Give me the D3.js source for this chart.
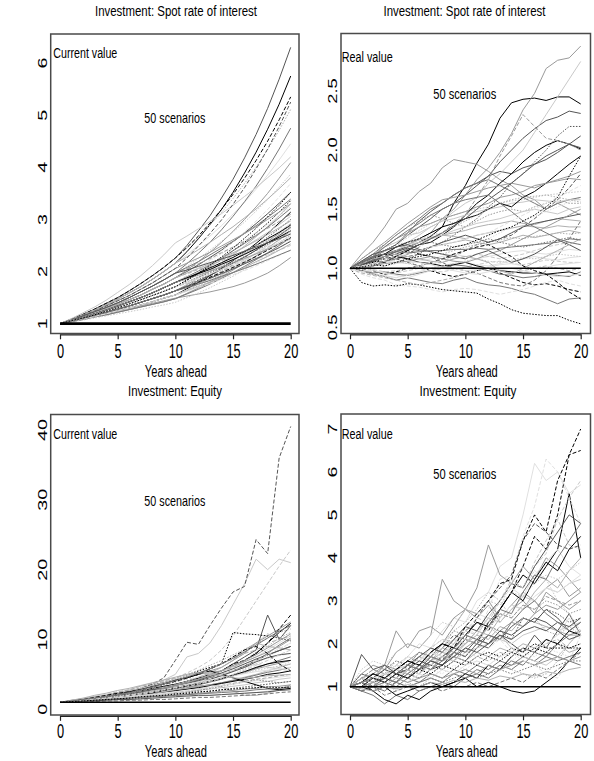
<!DOCTYPE html>
<meta charset="utf-8">
<html>
<head>
<style>
  html, body { margin: 0; padding: 0; background: #fff; overflow: hidden; }
  svg { display: block; }
  text { font-family: "Liberation Sans Narrow", "Liberation Sans", Arial, sans-serif; fill: #000; }
  text.ynum { font-family: "Liberation Sans", Arial, sans-serif; }
  path.scen { fill: none; stroke-width: 1; }
</style>
<script src="https://cdnjs.cloudflare.com/ajax/libs/d3/7.8.5/d3.min.js"></script>
</head>
<body>
<div id="chart"></div>
<script>
// years ahead and ticks
var years = [0,1,2,3,4,5,6,7,8,9,10,11,12,13,14,15,16,17,18,19,20];
var xTicks = [0,5,10,15,20];
var spotCurrentTicks = [1,2,3,4,5,6];
var spotRealTicks = [0.5,1.0,1.5,2.0,2.5];
var equityCurrentTicks = [0,10,20,30,40];
var equityRealTicks = [1,2,3,4,5,6,7];
var baseValue = 1;

// 50 scenarios, spot rate of interest, current value
var spotCurrent = [
[1,1.08,1.17,1.26,1.36,1.47,1.59,1.71,1.85,2.00,2.16,2.38,2.63,2.90,3.19,3.52,3.89,4.29,4.73,5.21,5.75],
[1,1.05,1.10,1.15,1.20,1.25,1.29,1.34,1.39,1.44,1.49,1.53,1.57,1.61,1.66,1.71,1.78,1.87,1.97,2.11,2.27],
[1,1.06,1.11,1.17,1.24,1.31,1.38,1.46,1.54,1.62,1.71,1.77,1.84,1.92,1.99,2.07,2.15,2.23,2.32,2.41,2.50],
[1,1.09,1.18,1.28,1.39,1.50,1.63,1.77,1.92,2.08,2.26,2.50,2.78,3.07,3.41,3.77,4.18,4.63,5.13,5.69,6.30],
[1,1.09,1.18,1.28,1.39,1.50,1.63,1.77,1.92,2.08,2.26,2.45,2.66,2.89,3.13,3.40,3.69,4.00,4.34,4.71,5.11],
[1,1.08,1.17,1.26,1.36,1.47,1.59,1.71,1.85,2.00,2.16,2.32,2.50,2.68,2.88,3.10,3.33,3.58,3.85,4.14,4.45],
[1,1.07,1.15,1.23,1.31,1.40,1.50,1.61,1.72,1.84,1.97,2.15,2.35,2.56,2.80,3.06,3.34,3.64,3.98,4.35,4.75],
[1,1.09,1.18,1.28,1.39,1.50,1.63,1.77,1.92,2.08,2.26,2.46,2.68,2.93,3.19,3.48,3.79,4.13,4.50,4.91,5.35],
[1,1.07,1.13,1.21,1.29,1.37,1.46,1.55,1.66,1.76,1.88,2.03,2.19,2.37,2.56,2.77,3.00,3.24,3.50,3.79,4.09],
[1,1.07,1.15,1.23,1.31,1.40,1.50,1.61,1.72,1.84,1.97,2.10,2.25,2.41,2.58,2.76,2.95,3.16,3.38,3.62,3.87],
[1,1.07,1.13,1.21,1.29,1.37,1.46,1.55,1.66,1.76,1.88,2.00,2.13,2.27,2.41,2.57,2.74,2.92,3.11,3.31,3.52],
[1,1.08,1.17,1.26,1.36,1.47,1.59,1.71,1.85,2.00,2.16,2.28,2.42,2.56,2.71,2.86,3.03,3.20,3.39,3.59,3.80],
[1,1.06,1.12,1.19,1.26,1.34,1.42,1.50,1.59,1.69,1.79,1.93,2.07,2.22,2.39,2.57,2.76,2.97,3.19,3.43,3.69],
[1,1.07,1.15,1.23,1.31,1.40,1.50,1.61,1.72,1.84,1.97,2.08,2.19,2.32,2.45,2.58,2.73,2.88,3.04,3.21,3.39],
[1,1.06,1.11,1.17,1.24,1.31,1.38,1.46,1.54,1.62,1.71,1.83,1.96,2.09,2.24,2.40,2.56,2.74,2.93,3.14,3.36],
[1,1.08,1.16,1.24,1.34,1.44,1.54,1.66,1.78,1.92,2.06,2.16,2.26,2.37,2.49,2.61,2.73,2.86,3.00,3.14,3.30],
[1,1.10,1.21,1.32,1.45,1.60,1.75,1.92,2.11,2.32,2.55,2.68,2.82,2.96,3.11,3.27,3.44,3.61,3.80,3.99,4.20],
[1,1.08,1.16,1.24,1.34,1.44,1.54,1.66,1.78,1.92,2.06,2.26,2.49,2.73,2.99,3.29,3.61,3.97,4.35,4.78,5.25],
[1,1.05,1.10,1.16,1.22,1.28,1.34,1.41,1.48,1.55,1.63,1.75,1.88,2.01,2.16,2.32,2.49,2.67,2.86,3.07,3.30],
[1,1.07,1.13,1.21,1.29,1.37,1.46,1.55,1.66,1.76,1.88,1.98,2.09,2.21,2.34,2.46,2.60,2.75,2.90,3.07,3.24],
[1,1.06,1.12,1.19,1.26,1.34,1.42,1.50,1.59,1.69,1.79,1.90,2.01,2.13,2.26,2.40,2.54,2.69,2.85,3.03,3.21],
[1,1.05,1.09,1.14,1.19,1.25,1.30,1.36,1.42,1.49,1.55,1.67,1.79,1.92,2.06,2.21,2.37,2.54,2.73,2.93,3.14],
[1,1.07,1.15,1.23,1.31,1.40,1.50,1.61,1.72,1.84,1.97,2.06,2.15,2.25,2.36,2.47,2.58,2.70,2.83,2.96,3.10],
[1,1.06,1.12,1.19,1.26,1.34,1.42,1.50,1.59,1.69,1.79,1.89,1.99,2.10,2.22,2.34,2.47,2.61,2.75,2.90,3.06],
[1,1.05,1.10,1.16,1.22,1.28,1.34,1.41,1.48,1.55,1.63,1.73,1.84,1.96,2.08,2.21,2.35,2.50,2.66,2.82,3.00],
[1,1.07,1.13,1.21,1.29,1.37,1.46,1.55,1.66,1.76,1.88,1.97,2.06,2.15,2.26,2.36,2.47,2.59,2.71,2.84,2.97],
[1,1.06,1.11,1.17,1.24,1.31,1.38,1.46,1.54,1.62,1.71,1.80,1.90,2.01,2.12,2.23,2.36,2.49,2.62,2.77,2.92],
[1,1.05,1.09,1.14,1.19,1.25,1.30,1.36,1.42,1.49,1.55,1.65,1.76,1.88,2.00,2.13,2.27,2.41,2.57,2.74,2.91],
[1,1.06,1.12,1.19,1.26,1.34,1.42,1.50,1.59,1.69,1.79,1.88,1.97,2.07,2.17,2.27,2.39,2.50,2.63,2.75,2.89],
[1,1.06,1.11,1.17,1.24,1.31,1.38,1.46,1.54,1.62,1.71,1.80,1.90,2.00,2.10,2.22,2.34,2.46,2.59,2.73,2.88],
[1,1.04,1.08,1.13,1.17,1.22,1.27,1.32,1.37,1.42,1.48,1.58,1.69,1.80,1.93,2.06,2.20,2.35,2.50,2.68,2.86],
[1,1.05,1.10,1.16,1.22,1.28,1.34,1.41,1.48,1.55,1.63,1.72,1.82,1.93,2.04,2.16,2.28,2.41,2.55,2.69,2.85],
[1,1.07,1.13,1.21,1.29,1.37,1.46,1.55,1.66,1.76,1.88,1.96,2.04,2.12,2.21,2.30,2.40,2.50,2.61,2.72,2.83],
[1,1.05,1.09,1.14,1.19,1.25,1.30,1.36,1.42,1.49,1.55,1.65,1.75,1.86,1.97,2.09,2.22,2.36,2.50,2.66,2.82],
[1,1.06,1.11,1.17,1.24,1.31,1.38,1.46,1.54,1.62,1.71,1.79,1.88,1.98,2.08,2.18,2.29,2.40,2.52,2.65,2.78],
[1,1.06,1.12,1.19,1.26,1.34,1.42,1.50,1.59,1.69,1.79,1.87,1.96,2.04,2.14,2.23,2.33,2.44,2.55,2.66,2.78],
[1,1.04,1.08,1.13,1.17,1.22,1.27,1.32,1.37,1.42,1.48,1.58,1.68,1.79,1.90,2.03,2.16,2.30,2.45,2.61,2.78],
[1,1.05,1.10,1.16,1.22,1.28,1.34,1.41,1.48,1.55,1.63,1.72,1.81,1.90,2.01,2.11,2.23,2.35,2.47,2.60,2.74],
[1,1.07,1.15,1.23,1.31,1.40,1.50,1.61,1.72,1.84,1.97,2.03,2.10,2.17,2.24,2.31,2.39,2.47,2.55,2.63,2.72],
[1,1.05,1.09,1.14,1.19,1.25,1.30,1.36,1.42,1.49,1.55,1.64,1.73,1.83,1.94,2.05,2.16,2.29,2.42,2.56,2.70],
[1,1.06,1.11,1.17,1.24,1.31,1.38,1.46,1.54,1.62,1.71,1.79,1.87,1.96,2.04,2.14,2.24,2.34,2.45,2.56,2.68],
[1,1.04,1.08,1.13,1.17,1.22,1.27,1.32,1.37,1.42,1.48,1.57,1.66,1.76,1.87,1.98,2.10,2.23,2.36,2.50,2.65],
[1,1.05,1.10,1.16,1.22,1.28,1.34,1.41,1.48,1.55,1.63,1.71,1.80,1.89,1.98,2.08,2.18,2.29,2.41,2.53,2.65],
[1,1.06,1.12,1.19,1.26,1.34,1.42,1.50,1.59,1.69,1.79,1.86,1.93,2.01,2.09,2.17,2.25,2.34,2.43,2.53,2.63],
[1,1.04,1.07,1.11,1.15,1.19,1.23,1.27,1.32,1.36,1.41,1.50,1.59,1.69,1.80,1.91,2.04,2.16,2.30,2.45,2.60],
[1,1.05,1.10,1.16,1.22,1.28,1.34,1.41,1.48,1.55,1.63,1.71,1.79,1.87,1.96,2.05,2.15,2.25,2.35,2.46,2.58],
[1,1.05,1.09,1.14,1.19,1.25,1.30,1.36,1.42,1.49,1.55,1.63,1.71,1.80,1.89,1.98,2.08,2.19,2.29,2.41,2.53],
[1,1.05,1.09,1.14,1.19,1.25,1.30,1.36,1.42,1.49,1.55,1.62,1.70,1.77,1.85,1.94,2.02,2.11,2.21,2.31,2.41],
[1,1.05,1.10,1.16,1.22,1.28,1.34,1.41,1.48,1.55,1.63,1.69,1.76,1.83,1.91,1.98,2.06,2.14,2.23,2.32,2.41],
[1,1.06,1.11,1.17,1.24,1.31,1.38,1.46,1.54,1.62,1.71,1.84,1.97,2.12,2.28,2.45,2.64,2.83,3.05,3.27,3.52]
];

// spot rate of interest, real value
var spotReal = [
[1,1.05,1.08,1.12,1.15,1.18,1.22,1.27,1.35,1.55,1.70,1.89,2.05,2.27,2.40,2.43,2.44,2.42,2.45,2.45,2.39],
[1,1.06,1.12,1.08,1.15,1.20,1.25,1.30,1.42,1.50,1.62,1.75,1.85,1.98,2.14,2.34,2.48,2.69,2.76,2.78,2.88],
[1,0.99,0.97,0.95,0.96,0.98,1.00,0.98,0.97,0.99,1.01,1.03,1.05,1.06,1.04,1.03,1.05,1.07,1.06,1.05,1.05],
[1,1.04,1.10,1.15,1.20,1.28,1.35,1.42,1.50,1.55,1.62,1.70,1.78,1.90,2.00,2.10,2.18,2.25,2.28,2.33,2.31],
[1,1.03,1.06,1.05,1.08,1.12,1.15,1.14,1.12,1.15,1.18,1.20,1.22,1.24,1.26,1.25,1.27,1.28,1.30,1.29,1.30],
[1,0.97,0.95,0.94,0.92,0.95,0.97,1.00,1.02,1.04,1.05,1.03,1.02,1.04,1.06,1.08,1.10,1.08,1.07,1.09,1.10],
[1,0.98,0.95,0.93,0.90,0.92,0.90,0.88,0.87,0.90,0.92,0.88,0.86,0.85,0.83,0.80,0.78,0.74,0.70,0.74,0.75],
[1,1.02,0.98,0.95,0.97,1.00,1.02,0.98,0.95,0.93,0.95,0.98,1.00,0.96,0.92,0.88,0.86,0.87,0.85,0.82,0.80],
[1,1.12,1.22,1.35,1.50,1.55,1.65,1.72,1.85,1.92,1.90,1.88,1.82,1.75,1.70,1.62,1.58,1.50,1.55,1.50,1.45],
[1,1.04,1.08,1.14,1.20,1.26,1.32,1.38,1.42,1.45,1.48,1.50,1.52,1.55,1.57,1.58,1.60,1.62,1.63,1.64,1.65],
[1,1.04,1.09,1.15,1.20,1.30,1.40,1.48,1.55,1.62,1.68,1.72,1.78,1.82,1.80,1.85,1.88,1.92,1.98,2.05,2.12],
[1,1.02,1.06,1.10,1.14,1.18,1.22,1.25,1.28,1.30,1.32,1.35,1.37,1.38,1.40,1.38,1.37,1.40,1.42,1.41,1.40],
[1,0.95,0.92,0.90,0.86,0.85,0.84,0.82,0.80,0.82,0.83,0.82,0.80,0.78,0.80,0.82,0.85,0.88,0.90,0.87,0.85],
[1,0.98,0.96,0.97,0.95,0.94,0.96,0.98,1.00,1.03,1.02,1.00,0.98,0.95,0.94,0.92,0.93,0.95,0.94,0.93,0.97],
[1,0.88,0.85,0.86,0.85,0.87,0.86,0.84,0.82,0.81,0.80,0.79,0.74,0.70,0.65,0.62,0.61,0.60,0.60,0.56,0.53],
[1,1.06,1.12,1.18,1.25,1.30,1.35,1.38,1.42,1.45,1.48,1.52,1.55,1.60,1.62,1.65,1.70,1.72,1.75,1.78,1.82],
[1,1.03,1.08,1.10,1.18,1.22,1.28,1.35,1.40,1.48,1.55,1.60,1.72,1.80,1.90,2.00,2.15,2.30,2.45,2.60,2.75],
[1,1.02,1.05,1.10,1.08,1.05,1.02,1.05,1.08,1.10,1.15,1.20,1.22,1.25,1.28,1.35,1.42,1.50,1.58,1.68,1.80],
[1,0.98,1.02,1.05,1.08,1.12,1.15,1.18,1.20,1.22,1.24,1.22,1.20,1.22,1.25,1.28,1.26,1.28,1.30,1.32,1.30],
[1,0.97,0.95,0.93,0.92,0.94,0.97,1.00,1.05,1.10,1.15,1.20,1.25,1.30,1.35,1.40,1.44,1.48,1.52,1.56,1.60],
[1,1.05,1.12,1.20,1.28,1.35,1.42,1.50,1.55,1.62,1.68,1.72,1.75,1.70,1.65,1.60,1.55,1.50,1.55,1.58,1.60],
[1,1.03,1.06,1.05,1.10,1.15,1.20,1.22,1.28,1.35,1.45,1.55,1.62,1.72,1.80,1.90,1.98,2.04,2.08,2.05,2.01],
[1,1.02,1.05,1.10,1.08,1.12,1.18,1.25,1.30,1.38,1.45,1.60,1.75,1.95,2.12,2.30,2.20,2.10,2.08,2.05,2.00],
[1,1.05,1.12,1.18,1.22,1.28,1.30,1.35,1.40,1.42,1.45,1.48,1.50,1.52,1.55,1.56,1.58,1.57,1.56,1.58,1.58],
[1,0.98,1.02,1.06,1.10,1.08,1.12,1.18,1.22,1.28,1.35,1.42,1.52,1.60,1.72,1.80,1.90,2.00,2.12,2.20,2.20],
[1,1.06,1.10,1.15,1.18,1.20,1.24,1.26,1.28,1.27,1.25,1.28,1.30,1.32,1.34,1.36,1.35,1.34,1.36,1.35,1.35],
[1,1.02,1.04,1.06,1.05,1.04,1.06,1.08,1.10,1.12,1.10,1.08,1.10,1.12,1.14,1.15,1.13,1.12,1.14,1.16,1.15],
[1,1.02,1.04,1.06,1.08,1.10,1.12,1.10,1.05,1.00,0.98,0.96,0.92,0.88,0.86,0.85,0.90,0.98,1.10,1.25,1.40],
[1,1.03,1.05,1.08,1.10,1.08,1.05,1.04,1.02,1.03,1.05,1.02,1.00,0.98,0.97,0.96,0.96,0.95,0.96,0.97,0.94],
[1,1.08,1.15,1.20,1.28,1.35,1.40,1.45,1.42,1.38,1.35,1.40,1.45,1.48,1.50,1.48,1.52,1.55,1.58,1.55,1.55],
[1,1.03,1.08,1.12,1.15,1.20,1.22,1.25,1.28,1.32,1.35,1.38,1.40,1.42,1.45,1.48,1.50,1.48,1.46,1.50,1.52],
[1,1.03,1.07,1.10,1.14,1.17,1.15,1.18,1.22,1.25,1.28,1.25,1.22,1.25,1.30,1.35,1.38,1.40,1.42,1.44,1.46],
[1,0.96,0.94,0.92,0.90,0.88,0.86,0.88,0.90,0.92,0.95,0.98,1.00,0.98,0.96,0.98,1.00,1.02,1.00,0.98,1.00],
[1,0.97,0.99,1.02,1.04,1.06,1.05,1.03,1.01,1.00,0.98,0.99,1.01,1.03,1.04,1.02,1.00,1.01,1.03,1.04,1.05],
[1,1.05,1.08,1.12,1.15,1.18,1.20,1.22,1.20,1.18,1.20,1.22,1.25,1.22,1.20,1.18,1.20,1.22,1.24,1.26,1.24],
[1,1.05,1.10,1.12,1.18,1.22,1.25,1.30,1.35,1.38,1.42,1.45,1.50,1.55,1.52,1.60,1.65,1.72,1.80,1.88,1.95],
[1,1.08,1.15,1.22,1.30,1.38,1.45,1.52,1.58,1.60,1.62,1.65,1.68,1.70,1.72,1.70,1.68,1.72,1.74,1.76,1.75],
[1,1.02,0.99,0.97,0.98,1.00,1.02,1.04,1.05,1.08,1.10,1.12,1.10,1.08,1.10,1.12,1.15,1.18,1.20,1.22,1.20],
[1,1.02,1.06,1.10,1.12,1.16,1.20,1.25,1.30,1.36,1.42,1.50,1.58,1.65,1.72,1.80,1.88,1.95,2.00,2.05,2.02],
[1,1.05,1.10,1.15,1.20,1.22,1.25,1.28,1.30,1.35,1.40,1.45,1.50,1.55,1.58,1.60,1.61,1.62,1.60,1.58,1.56],
[1,1.01,0.98,0.96,0.94,0.92,0.95,0.98,1.00,0.98,0.96,0.95,0.97,0.99,1.00,0.98,0.96,0.94,0.93,0.94,0.95],
[1,1.04,1.10,1.18,1.25,1.32,1.38,1.45,1.50,1.55,1.58,1.60,1.62,1.55,1.48,1.40,1.35,1.30,1.25,1.22,1.20],
[1,1.04,1.08,1.12,1.10,1.15,1.12,1.10,1.08,1.12,1.15,1.18,1.20,1.15,1.10,1.02,0.98,0.95,0.88,0.80,0.74],
[1,1.00,1.02,1.04,1.05,1.06,1.08,1.10,1.08,1.06,1.05,1.08,1.12,1.15,1.20,1.25,1.30,1.35,1.40,1.45,1.50],
[1,1.02,1.05,1.08,1.06,1.04,1.02,1.00,1.02,1.04,1.06,1.08,1.06,1.05,1.07,1.09,1.08,1.10,1.12,1.11,1.10],
[1,1.06,1.12,1.15,1.18,1.20,1.16,1.14,1.12,1.10,1.08,1.12,1.15,1.10,1.05,1.08,1.12,1.18,1.24,1.20,1.15],
[1,1.04,1.08,1.10,1.12,1.10,1.08,1.06,1.05,1.08,1.10,1.08,1.05,0.98,0.95,1.00,1.05,1.10,1.15,1.20,1.25],
[1,1.02,1.04,1.08,1.10,1.12,1.15,1.18,1.20,1.22,1.25,1.28,1.30,1.35,1.40,1.45,1.50,1.55,1.60,1.65,1.70],
[1,1.05,1.10,1.12,1.14,1.13,1.14,1.15,1.15,1.16,1.16,1.17,1.16,1.17,1.18,1.19,1.20,1.21,1.22,1.25,1.24],
[1,1.01,1.03,1.02,1.05,1.08,1.10,1.12,1.15,1.18,1.20,1.24,1.28,1.32,1.35,1.40,1.45,1.52,1.60,1.78,1.95]
];

// equity, current value
var equityCurrent = [
[1,1.2,1.3,1.5,1.8,2.0,2.3,2.6,3.0,3.3,3.6,4.0,4.5,5.0,5.5,6.2,7.0,8.0,9.5,11.0,12.3],
[1,1.3,1.5,1.7,2.0,2.4,2.6,3.0,3.4,3.8,4.2,4.5,5.0,5.5,6.0,7.0,8.0,9.5,10.5,11.5,12.5],
[1,1.2,1.4,1.6,1.9,2.2,2.6,3.0,3.5,4.0,4.5,5.2,6.0,7.0,8.5,10.5,13.0,15.5,18.0,20.5,22.8],
[1,1.1,1.3,1.5,1.7,1.9,2.2,2.5,2.8,3.2,3.5,3.8,4.3,4.8,5.5,6.5,7.5,8.5,13.5,10.0,12.0],
[1,1.1,1.3,1.4,1.6,1.8,2.0,2.3,2.6,2.9,3.2,3.6,4.0,4.5,5.2,6.0,7.0,8.2,9.0,10.2,11.0],
[1,1.2,1.4,1.5,1.7,2.0,2.2,2.5,2.8,3.1,3.5,3.9,4.2,4.8,5.5,6.2,6.8,7.5,8.5,9.5,10.5],
[1,1.1,1.2,1.4,1.5,1.7,1.9,2.1,2.4,2.7,3.0,3.4,3.8,4.3,4.9,5.5,6.2,7.0,8.0,9.2,10.2],
[1,1.1,1.3,1.4,1.7,1.9,2.1,2.4,2.8,3.0,3.5,4.0,4.5,5.0,5.5,6.5,7.0,8.0,9.5,11.5,13.5],
[1,1.2,1.5,1.8,2.0,2.3,2.6,2.9,3.3,3.7,4.2,4.6,5.0,5.3,5.5,6.0,6.8,7.5,8.2,9.0,10.0],
[1,1.1,1.3,1.4,1.6,1.8,2.0,2.2,2.5,2.8,3.0,3.3,3.6,4.0,4.5,5.0,5.8,6.5,7.5,8.5,9.5],
[1,1.2,1.4,1.6,1.7,1.9,2.1,2.4,2.7,3.0,3.3,3.7,4.1,4.5,5.0,5.5,6.2,7.0,7.8,8.4,9.0],
[1,1.1,1.2,1.4,1.6,1.8,2.0,2.3,2.6,3.0,3.5,4.0,4.6,5.2,6.0,7.0,8.5,9.5,9.0,8.8,8.5],
[1,1.2,1.4,1.6,1.9,2.2,2.5,2.9,3.3,3.6,4.0,4.3,4.6,5.0,5.5,6.0,6.5,7.0,7.3,7.7,8.0],
[1,1.1,1.2,1.3,1.5,1.7,1.9,2.1,2.3,2.5,2.8,3.1,3.5,3.9,4.3,4.8,5.3,5.9,6.5,7.0,7.5],
[1,1.2,1.4,1.6,1.8,2.2,2.5,3.0,3.5,3.8,4.2,4.8,5.5,6.0,6.5,11.0,10.8,10.7,10.5,10.2,9.8],
[1,1.2,1.3,1.5,1.7,1.8,2.0,2.2,2.5,2.8,3.0,3.3,3.6,4.0,4.4,4.8,5.3,5.8,6.2,6.6,7.0],
[1,1.2,1.5,1.7,2.0,2.4,2.8,3.3,3.6,4.2,5.0,7.5,8.0,9.5,12.0,15.0,18.0,21.5,20.0,21.5,21.0],
[1,1.2,1.4,1.6,2.0,2.3,2.7,3.0,3.6,4.5,7.0,9.6,9.3,12.0,14.5,16.8,17.6,24.3,22.3,36.0,40.5],
[1,1.1,1.2,1.4,1.5,1.7,1.9,2.0,2.2,2.4,2.6,2.9,3.2,3.5,3.8,4.2,4.6,5.0,5.5,6.0,6.5],
[1,1.3,1.2,1.5,1.4,1.8,1.7,2.1,2.0,2.5,2.4,3.0,2.8,3.5,3.3,4.2,4.0,5.0,5.5,6.2,6.8],
[1,1.1,1.3,1.4,1.6,1.7,1.9,2.1,2.3,2.5,2.7,3.0,3.3,3.5,3.8,4.1,4.5,4.9,5.3,5.6,6.0],
[1,1.2,1.3,1.5,1.6,1.8,2.0,2.1,2.3,2.5,2.7,2.9,3.1,3.4,3.7,4.0,4.3,4.6,5.0,5.2,5.5],
[1,1.1,1.2,1.3,1.4,1.6,1.7,1.9,2.0,2.2,2.4,2.6,2.9,3.1,3.4,3.7,4.0,4.3,4.5,4.8,5.0],
[1,1.1,1.2,1.3,1.5,1.6,1.7,1.9,2.0,2.2,2.3,2.5,2.7,2.9,3.1,3.3,3.5,3.8,4.0,4.3,4.5],
[1,1.1,1.2,1.2,1.3,1.4,1.5,1.6,1.8,1.9,2.1,2.2,2.4,2.6,2.8,3.0,3.2,3.4,3.6,3.8,4.0],
[1,1.1,1.2,1.3,1.5,1.6,1.8,2.0,2.2,2.5,2.8,3.0,3.3,3.5,3.2,2.6,2.0,2.0,2.3,2.8,3.5],
[1,1.0,1.1,1.1,1.2,1.3,1.3,1.4,1.5,1.6,1.7,1.8,1.9,2.0,2.1,2.2,2.3,2.4,2.6,2.8,3.0],
[1,1.0,1.1,1.1,1.2,1.2,1.3,1.3,1.4,1.4,1.5,1.6,1.7,1.7,1.8,1.9,2.0,2.1,2.2,2.4,2.5],
[1,1.2,1.4,1.6,1.9,2.2,2.5,2.9,3.3,3.8,4.2,4.5,5.0,5.5,5.0,4.5,4.0,3.5,3.0,2.8,3.0],
[1,1.2,1.3,1.6,1.8,2.1,2.3,2.7,3.0,3.5,3.9,4.4,5.0,5.7,6.5,7.5,8.2,9.5,10.8,10.2,9.8],
[1,1.2,1.5,1.7,2.0,2.3,2.7,3.0,3.4,3.8,4.3,4.8,5.3,5.2,5.0,5.5,6.0,6.5,6.0,5.8,5.5],
[1,1.1,1.3,1.5,1.7,1.9,2.1,2.4,2.6,2.9,3.2,3.5,3.9,4.3,4.8,5.4,6.0,6.8,7.4,7.8,8.0],
[1,1.3,1.5,1.8,2.1,2.5,2.8,3.3,3.7,4.1,4.5,5.0,5.2,5.8,6.5,7.2,8.0,8.5,9.5,10.0,10.5],
[1,1.2,1.4,1.6,1.8,2.0,2.2,2.5,2.7,3.0,3.3,3.6,3.9,4.2,4.5,4.8,5.1,5.4,5.6,5.8,6.0],
[1,1.1,1.2,1.3,1.4,1.5,1.6,1.7,1.9,2.0,2.2,2.4,2.7,3.0,3.3,3.6,3.9,4.2,4.0,3.8,4.0],
[1,1.1,1.3,1.4,1.6,1.8,2.0,2.2,2.4,2.7,3.0,3.3,3.6,4.0,4.4,4.9,5.4,6.0,6.5,6.8,7.0],
[1,1.1,1.2,1.3,1.4,1.5,1.6,1.7,1.8,1.9,2.0,2.1,2.3,2.4,2.6,2.7,2.9,3.0,3.2,3.3,3.5],
[1,1.1,1.2,1.4,1.5,1.7,1.9,2.1,2.4,2.6,2.9,3.2,3.6,4.0,4.5,5.0,5.6,6.3,7.0,7.8,8.5],
[1,1.2,1.4,1.5,1.8,2.0,2.2,2.5,2.8,3.0,3.4,3.8,4.2,4.7,5.2,5.8,6.5,7.2,7.8,8.4,9.0],
[1,1.2,1.4,1.7,1.9,2.2,2.6,3.0,3.4,3.9,4.4,5.0,5.6,6.3,7.0,7.8,8.6,9.4,10.2,11.0,11.5],
[1,1.1,1.3,1.4,1.5,1.7,1.8,2.0,2.1,2.3,2.5,2.7,2.9,3.1,3.4,3.6,3.9,4.1,4.4,4.6,4.8],
[1,1.1,1.2,1.3,1.4,1.5,1.6,1.7,1.8,1.9,2.0,2.1,2.2,2.3,2.4,2.5,2.6,2.8,2.9,3.0,3.2],
[1,1.2,1.4,1.7,2.0,2.3,2.5,2.8,3.2,3.6,4.0,4.5,5.0,5.8,6.5,7.5,8.5,9.0,8.0,6.5,5.5],
[1,1.1,1.3,1.4,1.6,1.8,2.0,2.3,2.6,3.0,3.4,3.8,4.3,4.9,5.5,6.3,7.0,7.8,8.8,9.8,10.8],
[1,1.2,1.3,1.5,1.7,1.9,2.1,2.3,2.6,2.8,3.1,3.4,3.7,4.0,4.4,4.8,5.2,5.6,5.9,6.2,6.5],
[1,1.1,1.2,1.2,1.3,1.4,1.4,1.5,1.6,1.7,1.8,1.9,2.0,2.0,2.1,2.2,2.3,2.4,2.5,2.7,2.8],
[1,1.3,1.6,2.0,2.3,2.7,3.0,3.4,3.8,4.2,4.6,5.0,5.3,5.0,4.8,4.5,4.4,4.6,4.8,4.9,5.0],
[1,1.1,1.3,1.5,1.6,1.8,2.0,2.2,2.5,2.8,3.1,3.5,3.9,4.4,5.0,5.6,6.3,7.0,7.8,8.7,9.5],
[1,1.2,1.4,1.6,1.8,2.1,2.4,2.8,3.2,3.6,4.1,4.6,5.2,5.8,6.5,7.3,8.2,9.2,10.2,11.2,12.0],
[1,1.1,1.2,1.3,1.4,1.5,1.6,1.8,1.9,2.0,2.2,2.3,2.5,2.6,2.8,2.9,3.0,3.1,3.2,3.1,3.2]
];

// equity, real value
var equityReal = [
[1,1.0,1.2,1.1,1.3,1.2,1.4,1.6,1.5,1.8,2.1,2.0,2.5,2.8,3.2,3.6,3.4,3.8,4.2,5.5,4.0],
[1,1.3,1.5,1.4,1.8,2.0,1.9,2.2,3.5,3.0,2.8,2.6,2.9,2.5,2.8,3.0,2.7,3.2,3.0,2.8,3.0],
[1,1.1,1.3,1.2,1.5,1.4,1.6,1.9,1.8,2.1,2.3,2.6,2.5,3.0,3.5,3.3,3.8,4.1,4.9,4.3,4.2],
[1,1.1,1.3,1.2,1.1,1.4,1.3,1.6,1.5,1.8,1.7,2.0,1.9,2.2,2.0,1.8,2.2,1.9,2.3,2.7,2.2],
[1,1.2,1.1,1.3,1.5,1.4,1.7,1.6,1.9,2.3,2.5,2.8,3.2,3.0,2.6,2.4,2.6,2.3,2.2,2.4,2.2],
[1,1.3,1.2,1.5,1.4,1.7,2.0,1.9,2.3,2.6,2.5,3.0,3.2,3.8,4.0,5.0,6.2,5.8,6.0,5.5,5.7],
[1,0.9,0.8,0.6,0.8,0.7,0.9,1.0,1.1,1.0,1.2,1.3,1.2,1.4,1.6,1.5,1.8,1.7,2.0,2.2,2.3],
[1,1.2,1.1,1.3,1.2,1.5,1.4,1.7,1.6,2.0,2.2,2.5,2.3,2.8,3.2,3.8,4.5,4.2,5.0,6.4,7.0],
[1,1.2,1.3,1.5,1.4,1.6,1.8,1.7,2.0,2.4,2.8,3.3,4.3,3.6,3.4,3.8,3.5,4.0,3.8,3.5,3.2],
[1,1.1,1.2,1.0,1.3,1.2,1.5,1.4,1.7,1.9,2.0,2.3,2.5,2.8,3.5,3.3,3.7,3.5,3.0,2.7,2.3],
[1,1.0,1.1,1.2,1.1,1.3,1.2,1.4,1.5,1.7,1.6,1.9,2.2,2.1,2.4,2.6,2.5,2.8,2.6,2.3,2.5],
[1,1.2,1.1,1.3,1.4,1.3,1.5,1.4,1.6,1.7,1.6,1.8,1.7,1.9,1.8,2.0,1.9,2.1,2.0,1.8,1.9],
[1,1.1,1.0,1.2,1.3,1.2,1.5,1.8,1.7,2.1,2.4,2.2,2.8,3.5,3.6,4.5,5.2,6.3,6.0,5.4,4.8],
[1,0.9,1.0,1.1,1.0,1.2,1.1,1.3,1.2,1.4,1.3,1.5,1.4,1.6,1.5,1.7,1.6,1.8,1.7,1.6,1.5],
[1,1.1,1.2,1.1,1.3,1.2,1.4,1.5,1.4,1.6,1.5,1.7,1.8,1.7,1.9,1.8,2.0,1.9,1.9,1.9,1.9],
[1,1.3,1.2,1.5,2.3,1.9,2.3,2.4,2.2,2.6,2.8,2.7,3.0,2.6,2.9,3.2,3.0,3.3,3.5,3.1,3.3],
[1,1.1,1.2,1.3,1.4,1.5,1.4,1.6,1.7,1.6,1.8,1.9,2.0,2.1,2.0,2.2,2.3,2.4,2.3,2.4,2.5],
[1,1.2,1.0,1.3,1.2,1.4,1.7,1.6,1.9,2.2,2.1,2.6,3.0,3.3,3.6,4.4,4.8,4.6,4.3,4.2,4.3],
[1,1.2,1.3,1.2,1.4,1.6,1.5,1.7,1.9,1.8,2.0,2.2,2.1,2.4,2.3,2.6,2.5,2.4,2.3,2.2,2.2],
[1,1.1,1.0,1.2,1.1,1.3,1.2,1.4,1.3,1.5,1.4,1.6,1.5,1.7,1.6,1.8,1.7,1.9,1.8,1.7,1.8],
[1,0.9,1.0,0.9,1.1,1.0,1.1,1.2,1.1,1.3,1.2,1.4,1.3,1.5,1.4,1.6,1.5,1.7,1.6,1.7,1.8],
[1,1.1,0.9,0.7,0.6,0.8,0.7,0.9,1.0,1.1,1.3,1.2,1.5,1.4,1.7,1.9,1.8,2.1,2.0,2.3,2.2],
[1,1.2,1.4,1.3,1.5,1.7,1.6,1.9,2.1,2.0,2.3,2.5,2.4,2.7,2.6,2.9,2.8,3.1,3.0,2.9,3.0],
[1,1.1,1.2,1.4,1.3,1.5,1.7,1.6,1.9,2.1,2.0,2.3,2.6,2.5,2.8,3.1,3.0,3.3,3.2,3.4,3.5],
[1,1.3,1.2,1.4,1.6,1.5,1.8,1.7,2.0,1.9,2.2,2.1,2.4,2.3,2.1,2.6,2.5,2.8,2.7,2.5,2.6],
[1,1.1,1.2,1.1,1.3,1.4,1.3,1.6,1.8,1.7,2.0,2.3,2.2,2.6,2.9,2.8,3.2,3.5,3.3,3.7,4.0],
[1,1.2,1.1,1.3,1.5,1.7,1.6,1.9,2.1,2.0,2.4,2.7,2.6,3.0,3.3,3.1,3.6,3.9,4.2,3.8,3.6],
[1,0.9,1.0,0.8,0.9,1.0,0.9,1.0,0.9,1.0,1.0,1.1,1.0,1.1,1.2,1.1,1.3,1.2,1.4,1.6,1.8],
[1,1.0,0.9,1.0,0.8,0.9,1.0,1.1,1.0,1.1,1.2,1.0,1.1,1.0,0.9,0.85,0.9,1.1,1.3,1.6,1.9],
[1,1.2,1.4,1.3,1.6,1.5,1.8,1.7,2.0,2.3,2.2,2.5,2.4,2.7,2.6,2.9,2.8,3.0,2.9,2.7,2.8],
[1,1.1,1.3,1.2,1.4,1.3,1.5,1.7,1.6,1.9,2.1,2.0,2.4,2.2,1.9,1.7,1.6,1.5,1.7,2.0,2.3],
[1,1.1,1.2,1.4,1.3,1.5,1.7,1.9,1.8,2.1,2.4,2.3,2.7,3.0,3.4,3.3,3.8,4.2,4.6,5.0,4.8],
[1,1.2,1.1,1.3,1.2,1.4,1.3,1.5,1.4,1.6,1.5,1.7,1.6,1.8,1.7,1.9,1.8,2.0,2.1,1.9,2.0],
[1,1.0,1.1,1.0,1.2,1.1,1.3,1.2,1.4,1.3,1.5,1.6,1.5,1.7,1.8,1.7,1.9,2.0,2.2,2.6,2.2],
[1,1.0,0.9,1.0,1.1,1.0,1.1,1.2,1.1,1.2,1.3,1.2,1.3,1.4,1.3,1.4,1.5,1.4,1.5,1.6,1.6],
[1,1.1,1.3,1.2,1.4,1.6,1.5,1.8,2.0,1.9,2.2,2.5,2.4,2.8,3.2,3.0,3.5,3.9,3.7,4.2,4.5],
[1,1.0,1.2,1.1,1.3,1.2,1.5,1.4,1.7,1.6,1.9,2.1,2.0,2.3,2.5,2.4,2.7,2.9,2.8,3.0,3.2],
[1,1.1,1.0,1.2,1.4,1.3,1.6,1.5,1.8,2.0,2.3,2.2,2.6,3.0,3.4,3.3,3.9,4.4,4.9,5.4,5.8],
[1,1.1,1.2,1.1,1.3,1.2,1.4,1.6,1.5,1.7,1.9,1.8,2.0,2.2,2.1,2.3,2.4,2.3,2.5,2.4,2.6],
[1,1.2,1.0,1.1,0.9,1.1,1.0,1.2,1.1,1.3,1.2,1.4,1.3,1.5,1.4,1.3,1.2,1.3,1.6,2.0,2.3],
[1,1.1,1.2,1.3,1.5,1.4,1.6,1.8,1.7,2.0,2.2,2.1,2.4,2.6,2.9,2.8,3.1,3.3,3.2,3.4,3.6],
[1,1.1,1.0,1.2,1.1,1.3,1.5,1.4,1.6,1.8,1.7,2.0,2.2,2.1,2.5,2.8,3.0,2.7,2.5,2.3,2.5],
[1,1.1,1.3,1.2,1.4,1.6,1.5,1.8,2.0,1.9,2.4,2.7,3.0,3.4,3.5,4.4,5.0,4.6,5.8,6.4,6.5],
[1,1.0,1.1,1.0,1.2,1.1,1.2,1.3,1.2,1.3,1.4,1.3,1.5,1.4,1.5,1.6,1.5,1.6,1.7,1.6,1.7],
[1,1.4,1.6,1.5,1.8,2.0,1.9,2.2,2.5,2.4,2.8,2.7,3.0,2.9,3.2,3.1,3.4,3.6,3.5,3.7,3.9],
[1,1.75,1.4,1.5,1.3,1.4,1.6,1.5,1.7,1.9,1.8,2.1,2.0,2.3,2.2,2.4,2.6,2.5,2.3,2.1,2.2],
[1,0.95,0.9,1.0,0.95,1.05,1.0,1.1,1.05,1.15,1.1,1.2,1.15,1.25,1.2,1.3,1.25,1.35,1.3,1.4,1.45],
[1,1.1,1.2,1.3,1.2,1.4,1.3,1.5,1.7,1.6,1.8,1.7,1.9,2.1,1.8,1.6,1.5,1.3,1.2,1.6,2.2],
[1,1.1,1.2,1.1,1.3,1.5,1.4,1.7,1.6,1.9,2.2,2.1,2.4,2.8,2.7,3.2,3.6,3.5,4.0,4.4,4.8],
[1,1.0,1.2,1.1,1.3,1.2,1.4,1.3,1.5,1.4,1.6,1.5,1.7,1.6,1.8,1.7,1.9,1.8,2.0,1.9,2.0]
];

// line styles cycled over the scenarios
var greys = ["#000000","#9a9a9a","#c9c9c9","#555555","#b0b0b0","#e0e0e0","#777777"];
var dashes = [null, null, "4,2", null, "1.5,1.5"];

var svg = d3.select("#chart").append("svg")
    .attr("width", 594)
    .attr("height", 761);

var panels = [
  { title: "Investment: Spot rate of interest", tag: "Current value", data: spotCurrent, ticks: spotCurrentTicks, fmt: d3.format("d"),
    box: [50.7, 34, 299, 333.5], xr: [60, 290.7], yd: [1, 6], yr: [323.7, 63], baseW: 2.8,
    titleX: 176, titleY: 15.5, titleW: 162, tagX: 53.3, tagY: 57.5, tagW: 64, scX: 144.3, scY: 122.5, scW: 61,
    numX: 46.7, tickBase: 357.5, yaY: 376.8 },
  { title: "Investment: Spot rate of interest", tag: "Real value", data: spotReal, ticks: spotRealTicks, fmt: d3.format(".1f"),
    box: [341, 33.5, 590.5, 333.5], xr: [350, 580.7], yd: [1, 2.5], yr: [268.3, 91], baseW: 1.6,
    titleX: 464.5, titleY: 15.5, titleW: 162, tagX: 341.7, tagY: 61.5, tagW: 51, scX: 433.3, scY: 99, scW: 63,
    numX: 336.8, tickBase: 357.5, yaY: 376.8 },
  { title: "Investment: Equity", tag: "Current value", data: equityCurrent, ticks: equityCurrentTicks, fmt: d3.format("d"),
    box: [50.7, 414.5, 299, 715], xr: [60, 290.7], yd: [0, 40], yr: [709.3, 430], baseW: 1.6,
    titleX: 175, titleY: 396, titleW: 94, tagX: 53.3, tagY: 439, tagW: 64, scX: 144.3, scY: 505.5, scW: 61,
    numX: 47, tickBase: 738, yaY: 756.5 },
  { title: "Investment: Equity", tag: "Real value", data: equityReal, ticks: equityRealTicks, fmt: d3.format("d"),
    box: [341, 414, 590.5, 714.5], xr: [350, 580.7], yd: [1, 7], yr: [686.7, 429], baseW: 1.6,
    titleX: 468, titleY: 396, titleW: 97, tagX: 341.7, tagY: 439, tagW: 51, scX: 433.3, scY: 479, scW: 63,
    numX: 336.5, tickBase: 738, yaY: 756.5 }
];

panels.forEach(function(p) {
  var g = svg.append("g");
  var x = d3.scaleLinear().domain([years[0], years[years.length - 1]]).range(p.xr);
  var y = d3.scaleLinear().domain(p.yd).range(p.yr);

  var line = d3.line()
      .x(function(d, i) { return x(years[i]); })
      .y(function(d) { return y(d); });

  // the 50 scenario paths
  g.selectAll(".scen")
    .data(p.data)
    .enter().append("path")
      .attr("class", "scen")
      .attr("d", line)
      .attr("stroke", function(d, i) { return greys[i % greys.length]; })
      .attr("stroke-dasharray", function(d, i) { return dashes[i % dashes.length]; });

  // horizontal line at the starting value
  g.append("line")
    .attr("x1", x(years[0])).attr("x2", x(years[years.length - 1]))
    .attr("y1", y(baseValue)).attr("y2", y(baseValue))
    .attr("stroke", "#000")
    .attr("stroke-width", p.baseW);

  // frame
  g.append("rect")
    .attr("x", p.box[0]).attr("y", p.box[1])
    .attr("width", p.box[2] - p.box[0]).attr("height", p.box[3] - p.box[1])
    .attr("fill", "none").attr("stroke", "#4a4a4a").attr("stroke-width", 1.5);

  // x axis, labels squeezed sideways with a scale transform
  var axisY = p.box[3] + 0.8;
  var ax = g.append("g")
    .attr("transform", "translate(0," + axisY + ")")
    .call(d3.axisBottom(x).tickValues(xTicks).tickSize(5).tickSizeOuter(0));
  ax.select(".domain").attr("stroke", "#222").attr("stroke-width", 1.2);
  ax.selectAll(".tick line").attr("stroke", "#222").attr("stroke-width", 1.2);
  ax.selectAll("text")
    .attr("y", null)
    .attr("dy", null)
    .attr("font-size", 20)
    .attr("transform", "translate(0," + (p.tickBase - axisY) + ") scale(0.64,1)");

  // rotated y labels
  g.selectAll(".ynum")
    .data(p.ticks)
    .enter().append("text")
      .attr("class", "ynum")
      .attr("transform", function(d) { return "translate(" + p.numX + "," + y(d) + ") rotate(-90)"; })
      .attr("text-anchor", "middle")
      .attr("font-size", 12)
      .attr("textLength", function(d) {
        var s = p.fmt(d);
        return s.replace(".", "").length * 11 + (s.indexOf(".") >= 0 ? 3.5 : 0);
      })
      .attr("lengthAdjust", "spacingAndGlyphs")
      .text(function(d) { return p.fmt(d); });

  function label(str, tx, ty, size, w, anchor) {
    g.append("text")
      .attr("x", tx).attr("y", ty)
      .attr("font-size", size)
      .attr("text-anchor", anchor)
      .attr("textLength", w)
      .attr("lengthAdjust", "spacingAndGlyphs")
      .text(str);
  }
  label(p.title, p.titleX, p.titleY, 14, p.titleW, "middle");
  label(p.tag, p.tagX, p.tagY, 14, p.tagW, "start");
  label("50 scenarios", p.scX, p.scY, 15, p.scW, "start");
  label("Years ahead", (p.box[0] + p.box[2]) / 2 + 1, p.yaY, 16, 62, "middle");
});
</script>
</body>
</html>
